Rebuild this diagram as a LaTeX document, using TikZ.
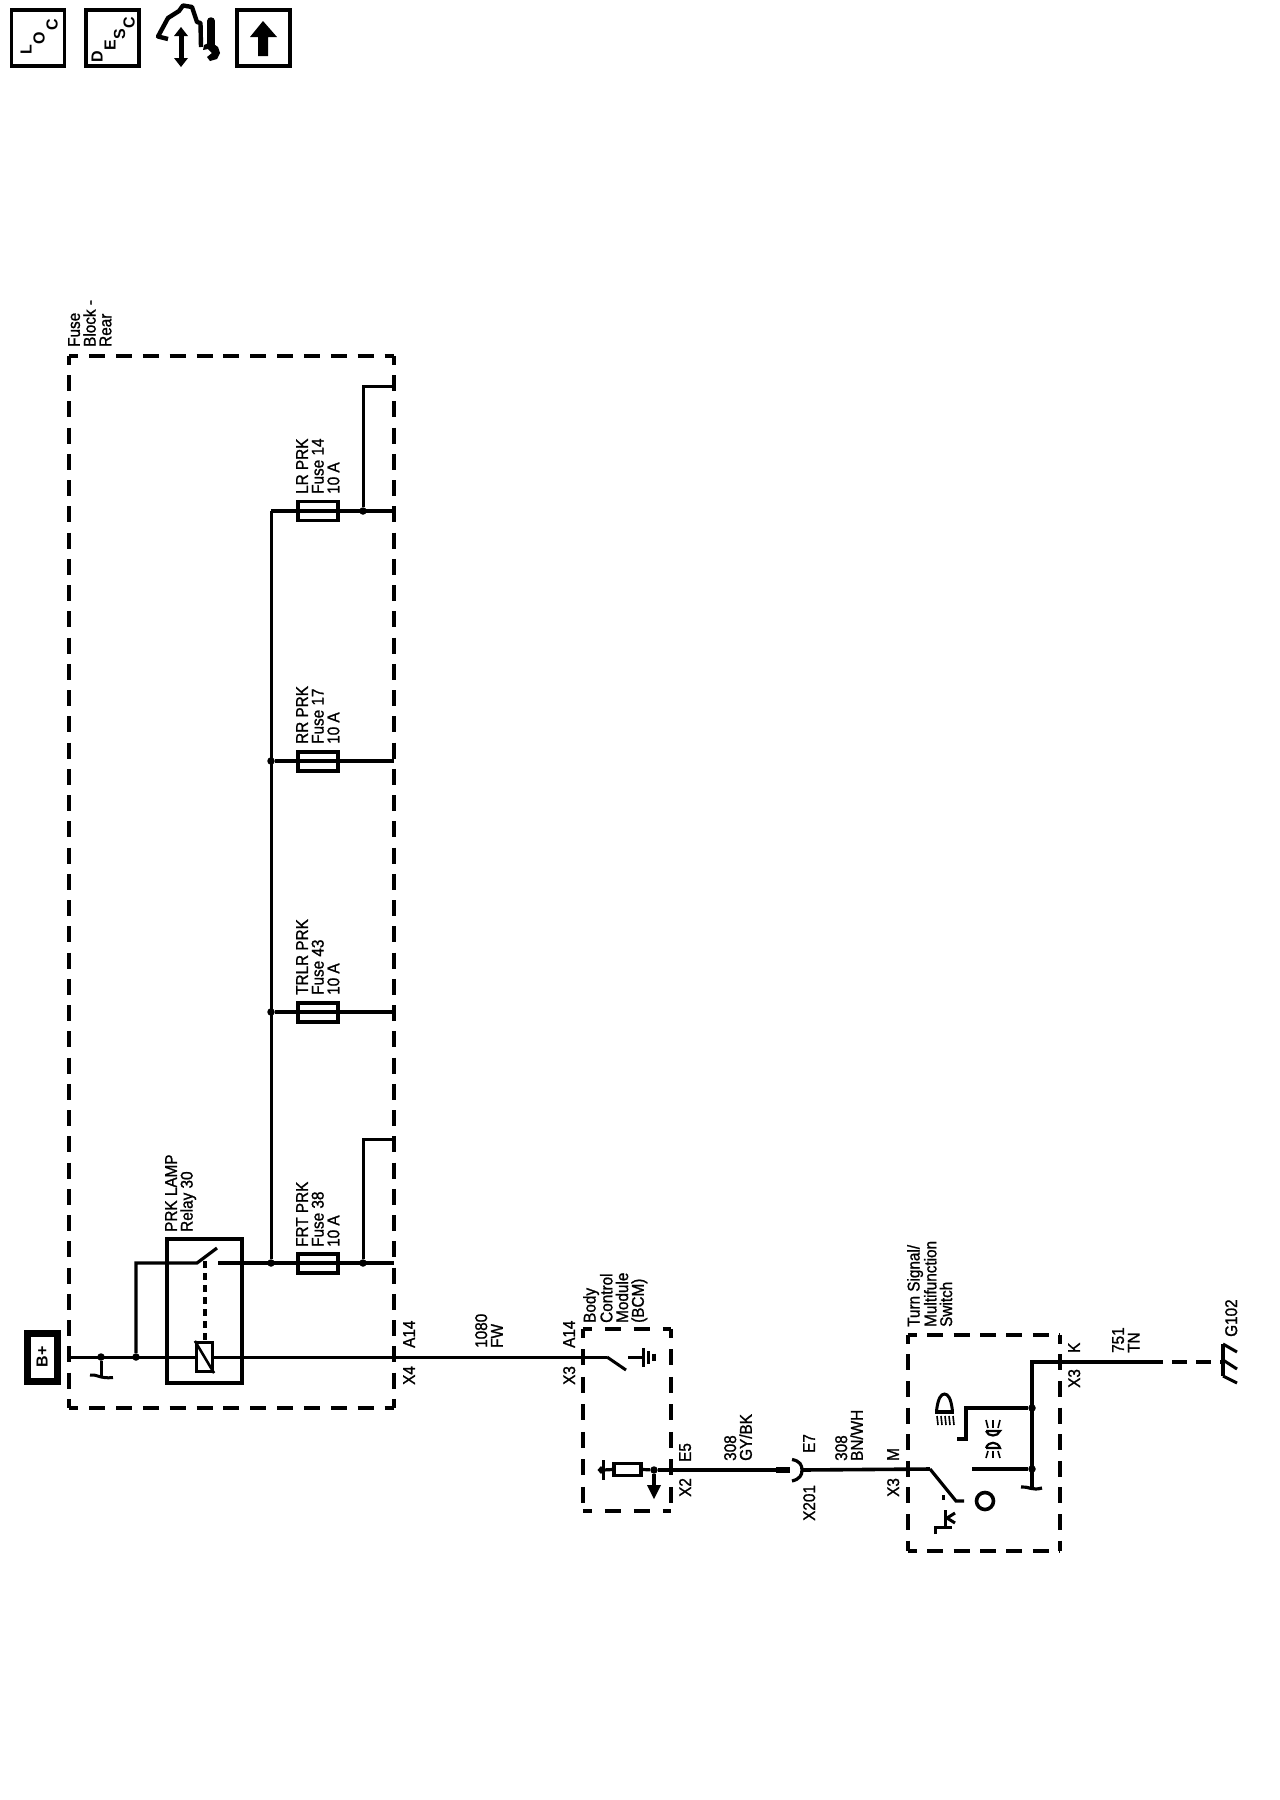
\documentclass[tikz,border=0pt]{standalone}
\usepackage{fontspec}
\usepackage{xcolor}
\usetikzlibrary{calc}
\newfontfamily\wirefont[FakeBold=1.2,FakeStretch=0.9]{Liberation Sans}
\newfontfamily\iconfont{Liberation Sans Bold}
\tikzset{
  wire/.style={line width=3.2pt,line join=miter},
  thinwire/.style={line width=3pt},
  boxdash/.style={line width=3.8pt,dash pattern=on 16pt off #1pt,dash phase=7pt},
  dot/.style={circle,fill=black,inner sep=0pt,minimum size=7.5pt},
  fusebox/.style={draw,line width=3.2pt,inner sep=0pt,minimum width=40pt,minimum height=19pt},
  iconbox/.style={draw,line width=3.6pt,inner sep=0pt,minimum width=53pt,minimum height=56pt},
  framebox/.style={inner sep=0pt},
  lbl/.style={rotate=90,anchor=north west,inner sep=0pt,align=left,font=\wirefont\fontsize{17}{15.7}\selectfont},
  letter/.style={rotate=90,inner sep=0pt,font=\iconfont\fontsize{16}{16}\selectfont}
}
\begin{document}
\begin{tikzpicture}[x=1pt,y=-1pt]
  \useasboundingbox (0,0) rectangle (1280,1800);
  % icons
  \node[iconbox] (locbox) at (38,38) {};
  \node[iconbox] (descbox) at (112.5,38) {};
  \node[iconbox] (upbox) at (263.5,38) {};
  \node[letter] (locL) at (26,50) {L};
  \node[letter] (locO) at (39,38) {O};
  \node[letter] (locC) at (52,25) {C};
  \node[letter] (descD) at (97,57) {D};
  \node[letter] (descE) at (110,45) {E};
  \node[letter] (descS) at (119.5,34) {S};
  \node[letter] (descC) at (129,23) {C};
  \fill (263,21) -- (277,37) -- (268,37) -- (268,56) -- (258,56) -- (258,37) -- (250,37) -- cycle;
  \draw[line width=4.4pt,line join=round] (168,39) -- (158,36.5) -- (168,18) -- (179,11) -- (183,5.5) -- (192,7) -- (197,22) -- (200.5,23) -- (201,47);
  \draw[line width=5pt] (181,34) -- (181,60);
  \fill (181,27) -- (188,36) -- (174,36) -- cycle;
  \fill (181,67) -- (188,58) -- (174,58) -- cycle;
  \draw[line width=7.5pt,line cap=round] (211,21) -- (211,45);
  \fill (211,42) -- (218,47) -- (220,53) -- (217,59) -- (210,61) -- (207,57) -- (212,53) -- (208,49) -- (203,50) -- (204,45) -- cycle;

  % fuse block
  \node[framebox,minimum width=324.5pt,minimum height=1052pt] (fuseblock) at (231.75,882) {};
  \draw[boxdash=10.85] (fuseblock.north west) -- (fuseblock.north east);
  \draw[boxdash=10.85] (fuseblock.south west) -- (fuseblock.south east);
  \draw[boxdash=10.25] (fuseblock.north west) -- (fuseblock.south west);
  \draw[boxdash=10.25] (fuseblock.north east) -- (fuseblock.south east);
  \node[lbl] (fuseblocktxt) at (68,347) {Fuse\\Block -\\Rear};

  % B+
  \node[draw,line width=7pt,inner sep=0pt,minimum width=30pt,minimum height=48pt] (bplus) at (42.5,1357.5) {};
  \node[rotate=90,inner sep=0pt,font=\iconfont\fontsize{16}{16}\selectfont] (bplustxt) at (42,1357) {B+};

  % junctions
  \node[dot] (jgnd) at (101,1357) {};
  \node[dot] (jrelay) at (136,1357) {};
  \node[dot] (jbus) at (271,1263) {};
  \node[dot] (jfrt) at (363,1263) {};
  \node[dot] (jtrlr) at (271,1012) {};
  \node[dot] (jrr) at (271,761) {};
  \node[dot] (jlr) at (363,511) {};
  \coordinate (jtop) at (271,511);
  \coordinate (mainin) at (69.5,1357);
  \coordinate (bcmsw) at (607,1357);

  % relay
  \node[draw,line width=3.2pt,inner sep=0pt,minimum width=75pt,minimum height=144pt] (relay) at (204.5,1311) {};
  \node[lbl] (relaytxt) at (165,1232) {PRK LAMP\\Relay 30};
  \coordinate (bladeA) at (197,1263);
  \coordinate (bladeB) at (217,1248);
  \coordinate (bladeC) at (218,1263);
  \draw[thinwire] (mainin) -- (bcmsw);
  \draw[wire] (jrelay) |- (bladeA) -- (bladeB);
  \draw[line width=3.4pt,dash pattern=on 7pt off 5pt] (205,1261) -- (205,1342);
  \node[draw,fill=white,line width=3.2pt,inner sep=0pt,minimum width=16pt,minimum height=29pt] (coil) at (204.5,1357) {};
  \draw[line width=2.6pt] (coil.north west) -- (coil.south east);

  % ground at battery
  \coordinate (gndA) at (90,1375);
  \coordinate (gndB) at (113,1377.5);
  \draw[thinwire] (jgnd) -- (101,1377);
  \draw[thinwire] (gndA) .. controls (97,1374) and (100,1379) .. (gndB);

  % fuses
  \node[fusebox] (fusefrt) at (318,1263.5) {};
  \node[fusebox] (fusetrlr) at (318,1012.5) {};
  \node[fusebox] (fuserr) at (318,761.5) {};
  \node[fusebox] (fuselr) at (318,511) {};
  \coordinate (outfrt) at (fuseblock.east|-jfrt);
  \coordinate (outtrlr) at (fuseblock.east|-jtrlr);
  \coordinate (outrr) at (fuseblock.east|-jrr);
  \coordinate (outlr) at (fuseblock.east|-jlr);
  \draw[wire] (bladeC) -- (outfrt);
  \draw[wire] (jtrlr) -- (outtrlr);
  \draw[wire] (jrr) -- (outrr);
  \draw[wire] (jtop) -- (outlr);
  \draw[thinwire] (jbus) -- (jtop);
  \draw[thinwire] (jfrt) |- ($(fuseblock.east|-jfrt)+(0,-124)$);
  \draw[thinwire] (jlr) |- ($(fuseblock.east|-jlr)+(0,-125)$);
  \node[lbl] (frttxt) at (296,1247) {FRT PRK\\Fuse 38\\10 A};
  \node[lbl] (trlrtxt) at (296,995) {TRLR PRK\\Fuse 43\\10 A};
  \node[lbl] (rrtxt) at (296,744) {RR PRK\\Fuse 17\\10 A};
  \node[lbl] (lrtxt) at (296,494) {LR PRK\\Fuse 14\\10 A};
  \node[lbl] (a14txt) at (403,1348) {A14};
  \node[lbl] (x4txt) at (403,1385) {X4};
  \node[lbl] (w1080) at (475,1348) {1080\\FW};

  % body control module
  \node[framebox,minimum width=88pt,minimum height=182pt] (bcm) at (627,1420) {};
  \draw[boxdash=13] (bcm.north west) -- (bcm.north east);
  \draw[boxdash=13] (bcm.south west) -- (bcm.south east);
  \draw[boxdash=11.5] (bcm.north west) -- (bcm.south west);
  \draw[boxdash=11.5] (bcm.north east) -- (bcm.south east);
  \node[lbl] (bcmtxt) at (583,1323) {Body\\Control\\Module\\(BCM)};
  \node[lbl] (bcma14) at (563,1348) {A14};
  \node[lbl] (bcmx3) at (563,1385) {X3};
  \node[lbl] (bcme5) at (679,1462) {E5};
  \node[lbl] (bcmx2) at (679,1497) {X2};
  \coordinate (swend) at (626,1370);
  \coordinate (gndstem) at (628,1357);
  \coordinate (gndbar) at (643,1357);
  \draw[thinwire] (bcmsw) -- (swend);
  \draw[thinwire] (gndstem) -- (gndbar);
  \draw[line width=3pt] (643,1348) -- (643,1367);
  \draw[line width=3.6pt] (648.5,1351) -- (648.5,1364);
  \draw[line width=3.6pt] (654,1353.5) -- (654,1361);
  \node[dot] (jbcm) at (654,1470) {};
  \node[draw,line width=3.2pt,inner sep=0pt,minimum width=27pt,minimum height=12pt] (resistor) at (627.5,1469.5) {};
  \coordinate (stub) at (603,1470);
  \draw[line width=3pt] (603,1460) -- (603,1480);
  \draw[wire] (stub) -- (resistor.west);
  \fill (597.5,1470) -- (601,1466) -- (604,1470) -- (601,1474) -- cycle;
  \draw[wire] (resistor.east) -- (jbcm);
  \draw[wire] (jbcm) -- (654,1487);
  \fill (647,1485) -- (661,1485) -- (654,1499) -- cycle;

  % connector X201
  \coordinate (x201a) at (790,1470);
  \coordinate (x201b) at (802,1470);
  \draw[line width=3.6pt] (jbcm) -- (x201a);
  \draw[line width=5.5pt] (776,1470) -- (x201a);
  \draw[line width=3.2pt] (792,1459.5) .. controls (800,1461) and (802,1465) .. (x201b) .. controls (802,1475) and (800,1479) .. (792,1481);
  \node[lbl] (w308a) at (724,1461) {308\\GY/BK};
  \node[lbl] (e7txt) at (803,1453) {E7};
  \node[lbl] (x201txt) at (803,1521) {X201};
  \node[lbl] (w308b) at (835,1461) {308\\BN/WH};

  % turn signal switch
  \node[framebox,minimum width=152pt,minimum height=216pt] (tsw) at (984,1443) {};
  \draw[boxdash=10.4] (tsw.north west) -- (tsw.north east);
  \draw[boxdash=10.4] (tsw.south west) -- (tsw.south east);
  \draw[boxdash=10.6] (tsw.north west) -- (tsw.south west);
  \draw[boxdash=10.6] (tsw.north east) -- (tsw.south east);
  \node[lbl] (tswtxt) at (907,1327) {Turn Signal/\\Multifunction\\Switch};
  \node[lbl] (mtxt) at (887,1461) {M};
  \node[lbl] (x3m) at (887,1497) {X3};
  \node[lbl] (ktxt) at (1068,1353) {K};
  \node[lbl] (x3k) at (1068,1388) {X3};
  \node[lbl] (w751) at (1112,1353) {751\\TN};
  \node[lbl] (g102txt) at (1225,1337) {G102};

  \node[dot] (jhead) at (1032,1408) {};
  \node[dot] (jdrl) at (1032,1469) {};
  \coordinate (swpivot) at (930,1469);
  \coordinate (swtip) at (956,1501);
  \coordinate (swtipb) at (964,1501);
  \coordinate (drlin) at (972,1469);
  \coordinate (hdin) at (957,1439);
  \coordinate (hdbend) at (966,1408);
  \coordinate (ktop) at (1032,1362);
  \coordinate (kend) at (1163,1362);
  \coordinate (g102) at (1223,1362);
  \draw[line width=3.6pt] (x201b) -- (swpivot);
  \draw[wire] (swpivot) -- (swtip) -- (swtipb);
  \draw[wire] (drlin) -- (jdrl);
  \draw[wire] (hdin) -| (hdbend) -- (jhead);
  \draw[wire] (kend) -- (ktop) -- (1032,1488);
  \draw[wire] (1021,1487) .. controls (1028,1486) and (1032,1491) .. (1042,1488);
  \draw[wire,dash pattern=on 15pt off 9pt,dash phase=-9pt] (kend) -- (g102);

  % ground G102
  \draw[line width=3.4pt] (1223,1344) -- (1223,1376);
  \draw[line width=3pt] (1223,1344) -- (1237,1352);
  \draw[line width=3pt] (1223,1360) -- (1237,1369);
  \draw[line width=3pt] (1223,1376) -- (1237,1383);

  % headlamp
  \draw[line width=3.4pt] (935,1412) -- (954,1412);
  \draw[line width=3pt] (936.5,1411) .. controls (938,1398) and (941,1394) .. (944.5,1394) .. controls (948,1394) and (951,1398) .. (952.5,1411);
  \foreach \xa in {937,941,945,949,953}
    \draw[line width=1.6pt] (\xa,1416) -- (\xa+1,1425);

  % drl lamp
  \draw[line width=2.2pt] (986,1431) -- (1000,1431) .. controls (998,1437) and (988,1437) .. (986,1431);
  \draw[line width=2.2pt] (986,1448) -- (1000,1448) .. controls (998,1441) and (988,1441) .. (986,1448);
  \draw[line width=1.6pt] (986,1420) -- (988,1428);
  \draw[line width=1.6pt] (993,1420) -- (993,1428);
  \draw[line width=1.6pt] (1000,1420) -- (998,1428);
  \draw[line width=1.6pt] (988,1451) -- (986,1458);
  \draw[line width=1.6pt] (993,1451) -- (993,1458);
  \draw[line width=1.6pt] (998,1451) -- (1000,1458);

  % off position and lever
  \node[draw,circle,line width=3.6pt,inner sep=0pt,minimum size=17pt] (offmark) at (985,1501) {};
  \draw[line width=3pt] (943,1495) -- (943,1500);
  \draw[line width=3pt] (945,1510) -- (945,1527);
  \draw[line width=3pt] (935,1534) -- (935,1527) -- (952,1527);
  \draw[line width=3pt] (955,1513) -- (947,1518) -- (955,1523);
\end{tikzpicture}
\end{document}
